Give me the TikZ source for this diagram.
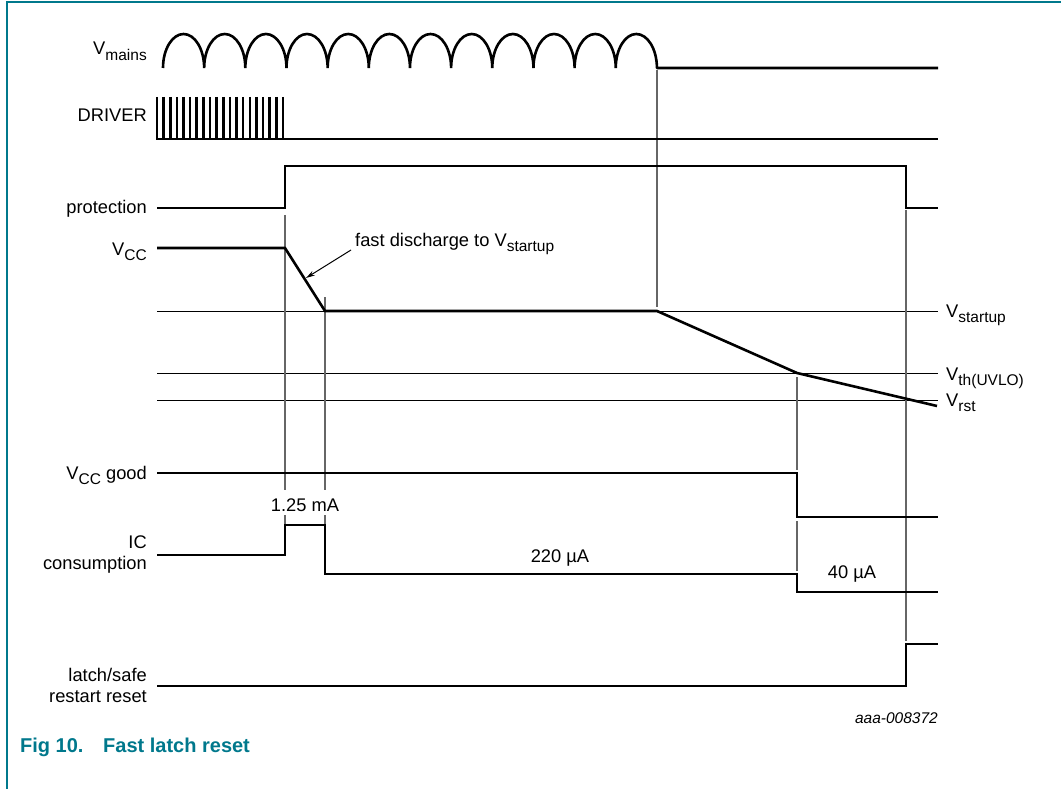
\documentclass[tikz,border=0pt]{standalone}
\usepackage{fontspec}
\setmainfont{Liberation Sans}
\usetikzlibrary{arrows.meta}
\definecolor{nxpteal}{RGB}{0,120,140}
\newcommand\sbs[1]{\raisebox{-0.28em}{\fontsize{15.5}{15.5}\selectfont #1}}
\tikzset{
  sig/.style={line width=2.6pt, line join=miter, line cap=butt},
  refline/.style={line width=1pt, black},
  guide/.style={line width=1.1pt, black!60},
  lbl/.style={font=\fontsize{18.3}{21}\selectfont, inner sep=0pt, align=right},
  rlbl/.style={font=\fontsize{18.3}{21}\selectfont, inner sep=0pt, anchor=base west},
  vlbl/.style={font=\fontsize{18.3}{21}\selectfont, inner sep=0pt},
}
\begin{document}
\begin{tikzpicture}[x=1pt,y=-1pt]
\useasboundingbox (0,0) rectangle (1061,789);
% frame
\draw[nxpteal, line width=1.5pt] (7,789) -- (7,2) -- (1061,2);

% left labels
\node[lbl, anchor=base east] (lmains) at (147,55) {V\sbs{mains}};
\node[lbl, anchor=base east] (ldriver) at (147,122) {DRIVER};
\node[lbl, anchor=base east] (lprot) at (147,214) {protection};
\node[lbl, anchor=base east] (lvcc) at (147,255) {V\sbs{CC}};
\node[lbl, anchor=base east] (lgood) at (147,479) {V\sbs{CC} good};
\node[lbl, anchor=east] (lic) at (147,555) {IC\\consumption};
\node[lbl, anchor=east] (llatch) at (147,685) {latch/safe\\restart reset};

% reference levels
\draw[refline] (157,311) coordinate (vs0) -- (938,311) coordinate (vs1);
\draw[refline] (157,373) coordinate (vt0) -- (938,373) coordinate (vt1);
\draw[refline] (157,400) coordinate (vr0) -- (938,400) coordinate (vr1);
\node[rlbl] (lvstart) at (946,317) {V\sbs{startup}};
\node[rlbl] (lvth) at (946,380) {V\sbs{th(UVLO)}};
\node[rlbl] (lvrst) at (946,406) {V\sbs{rst}};

% guides
\draw[guide] (285,215) -- (285,490) (285,515) -- (285,524);
\draw[guide] (325,297) -- (325,490) (325,515) -- (325,524);
\draw[guide] (657,70) -- (657,307);
\draw[guide] (797,377) -- (797,470) (797,521) -- (797,571);
\draw[guide] (906,210) -- (906,641);

% Vmains
\draw[sig, line join=bevel] (163,68) \foreach \i in {1,...,12}{ arc[start angle=180, end angle=0, x radius=20.58pt, y radius=34pt] } -- (938,68);

% DRIVER
\draw[sig] (157,139) -- (938,139);
\foreach \i in {0,...,19}
  \draw[line width=2.6pt] ({157+\i*6.63},97) -- ({157+\i*6.63},140);

% protection
\draw[sig] (157,208) -- (285,208) -- (285,166) -- (906,166) -- (906,208) -- (938,208);

% VCC
\draw[sig] (157,248) -- (285,248) -- (325,311) coordinate (knee) -- (657,311) -- (797,373) -- (937,406);
\coordinate (tip) at (306,278);
\node[vlbl, anchor=base west] (fd) at (355,246) {fast discharge to V\sbs{startup}};
\draw[line width=1pt, -{Stealth[length=9pt,width=5pt]}] (351,250) -- (tip);

% VCC good
\draw[sig] (157,473) -- (797,473) -- (797,517) -- (938,517);

% IC consumption
\draw[sig] (157,555) -- (285,555) -- (285,525) -- (325,525) -- (325,574) -- (797,574) -- (797,592) -- (938,592);
\node[vlbl] (i1) at (305,505) {1.25 mA};
\node[vlbl] (i2) at (560,558) {220 µA};
\node[vlbl] (i3) at (852,574) {40 µA};

% latch
\draw[sig] (157,686) -- (906,686) -- (906,644) -- (938,644);

% code and caption
\node[font=\fontsize{15.5}{18}\itshape, inner sep=0pt, anchor=base east] (code) at (938,723) {aaa-008372};
\node[font=\fontsize{20}{24}\bfseries, text=nxpteal, inner sep=0pt, anchor=base west] (fig) at (20,752) {Fig 10.};
\node[font=\fontsize{20}{24}\bfseries, text=nxpteal, inner sep=0pt, anchor=base west] (cap) at (103,752) {Fast latch reset};
\end{tikzpicture}
\end{document}
